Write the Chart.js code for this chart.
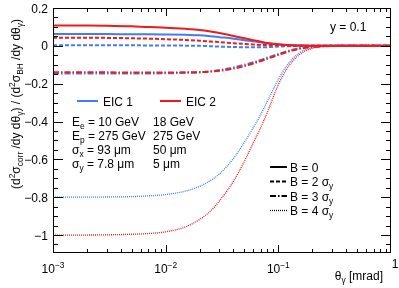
<!DOCTYPE html>
<html>
<head>
<meta charset="utf-8">
<script src="https://cdn.jsdelivr.net/npm/chart.js@4"></script>
<style>
  html, body { margin: 0; padding: 0; background: #fff; }
  #wrap { width: 399px; height: 288px; }
</style>
</head>
<body>
<div id="wrap"><canvas id="grafic"></canvas></div>
<script>
// theta_gamma values [mrad]
const thetaY = [0.001, 0.002, 0.003, 0.005, 0.007, 0.01, 0.015, 0.02, 0.025, 0.03, 0.04,
                0.05, 0.06, 0.07, 0.08, 0.1, 0.12, 0.15, 0.2, 0.3, 0.5, 1];

// EIC 1 ratios
const eic1B0 = [0.062, 0.062, 0.062, 0.061, 0.061, 0.060, 0.058, 0.056, 0.051, 0.046, 0.038,
                0.030, 0.024, 0.018, 0.013, 0.007, 0.004, 0.002, 0, 0, 0, 0];
const eic1B2 = [0.003, 0.003, 0.003, 0.003, 0.002, 0.002, 0.001, 0, -0.002, -0.004, -0.006,
                -0.008, -0.008, -0.008, -0.007, -0.004, -0.002, -0.001, 0, 0, 0, 0];
const eic1B3 = [-0.146, -0.146, -0.146, -0.146, -0.146, -0.145, -0.143, -0.140, -0.135, -0.128, -0.114,
                -0.100, -0.087, -0.074, -0.062, -0.043, -0.028, -0.014, -0.004, 0, 0, 0];
const eic1B4 = [-0.800, -0.800, -0.799, -0.797, -0.793, -0.786, -0.768, -0.743, -0.712, -0.677, -0.595,
                -0.510, -0.432, -0.362, -0.293, -0.177, -0.102, -0.042, -0.009, -0.001, 0, 0];

// EIC 2 ratios
const eic2B0 = [0.107, 0.107, 0.106, 0.103, 0.099, 0.096, 0.090, 0.084, 0.076, 0.068, 0.052,
                0.040, 0.030, 0.022, 0.015, 0.008, 0.004, 0.002, 0, 0, 0, 0];
const eic2B2 = [0.043, 0.043, 0.042, 0.040, 0.038, 0.035, 0.031, 0.027, 0.023, 0.020, 0.014,
                0.010, 0.007, 0.005, 0.004, 0.003, 0.002, 0.001, 0, 0, 0, 0];
const eic2B3 = [-0.140, -0.140, -0.140, -0.141, -0.141, -0.141, -0.140, -0.139, -0.136, -0.132, -0.120,
                -0.107, -0.093, -0.080, -0.068, -0.048, -0.032, -0.017, -0.006, -0.001, 0, 0];
const eic2B4 = [-1.000, -1.000, -0.999, -0.996, -0.992, -0.983, -0.957, -0.918, -0.873, -0.820, -0.715,
                -0.610, -0.512, -0.430, -0.350, -0.205, -0.118, -0.052, -0.013, -0.002, 0, 0];

const yTicks = [-1, -0.8, -0.6, -0.4, -0.2, 0, 0.2];
const xTicks = [0.001, 0.01, 0.1, 1];
const xTickLabels = [['10', '−3'], ['10', '−2'], ['10', '−1'], ['1', '']];

const beamLabels = ['EIC 1', 'EIC 2'];
const paramNames = [['E', 'e'], ['E', 'p'], ['σ', 'x'], ['σ', 'y']];
const paramEic1 = ['10 GeV', '275 GeV', '93 μm', '7.8 μm'];
const paramEic2 = ['18 GeV', '275 GeV', '50 μm', '5 μm'];
const bLabels = [['B = 0', ''], ['B = 2 σ', 'y'], ['B = 3 σ', 'y'], ['B = 4 σ', 'y']];

const BLUE = '#3f7ef2';
const RED = '#f01a1a';
const FONT = '"Liberation Sans", Arial, sans-serif';
const dashes = [[], [4, 2], [6, 2, 1.5, 2], [1, 1]];
const widths = [2, 2, 2, 1.3];

const pts = arr => arr.map((v, i) => ({ x: thetaY[i], y: v }));

function serie(data, color, k) {
    return {
        data: pts(data),
        borderColor: color,
        borderWidth: widths[k],
        borderDash: dashes[k],
        pointRadius: 0,
        fill: false,
        cubicInterpolationMode: 'monotone'
    };
}

// text amb sub/superindexs: parts = [[text, mode]] mode 0 normal, 1 sub, 2 sup
function rich(ctx, parts, x, y, size, align) {
    const sm = size * 0.7;
    let w = 0;
    parts.forEach(p => {
        ctx.font = (p[1] ? sm : size) + 'px ' + FONT;
        w += ctx.measureText(p[0]).width;
    });
    let cx = align === 'center' ? x - w / 2 : align === 'right' ? x - w : x;
    ctx.textAlign = 'left';
    ctx.textBaseline = 'alphabetic';
    parts.forEach(p => {
        ctx.font = (p[1] ? sm : size) + 'px ' + FONT;
        const dy = p[1] === 1 ? size * 0.28 : p[1] === 2 ? -size * 0.42 : 0;
        ctx.fillText(p[0], cx, y + dy);
        cx += ctx.measureText(p[0]).width;
    });
}

const decoracio = {
    id: 'decoracio',
    afterDraw(chart) {
        const ctx = chart.ctx;
        const a = chart.chartArea;
        const xs = chart.scales.x, ys = chart.scales.y;
        ctx.save();
        ctx.strokeStyle = '#000';
        ctx.fillStyle = '#000';
        ctx.lineWidth = 1;
        ctx.setLineDash([]);
        ctx.strokeRect(a.left + 0.5, a.top + 0.5, a.right - a.left - 1, a.bottom - a.top - 1);

        // ticks y, dins del marc, als dos costats
        ctx.beginPath();
        for (let v = -1.05; v <= 0.2001; v += 0.05) {
            const major = Math.abs(Math.round(v * 5) - v * 5) < 1e-6;
            const len = major ? 10 : 5;
            const py = Math.round(ys.getPixelForValue(v)) + 0.5;
            ctx.moveTo(a.left, py); ctx.lineTo(a.left + len, py);
            ctx.moveTo(a.right, py); ctx.lineTo(a.right - len, py);
        }
        // ticks x, a dalt i a baix
        for (let e = -3; e < 0; e++) {
            for (let m = 1; m <= 9; m++) {
                const v = m * Math.pow(10, e);
                const len = m === 1 ? 8 : 4;
                const px = Math.round(xs.getPixelForValue(v)) + 0.5;
                ctx.moveTo(px, a.bottom); ctx.lineTo(px, a.bottom - len);
                ctx.moveTo(px, a.top); ctx.lineTo(px, a.top + len);
            }
        }
        ctx.stroke();

        // etiquetes y
        yTicks.forEach(v => {
            const py = ys.getPixelForValue(v);
            rich(ctx, [[String(v).replace('-', '−'), 0]], a.left - 5, py + 4.5, 12, 'right');
        });

        // etiquetes x
        xTicks.forEach((v, i) => {
            const px = xs.getPixelForValue(v);
            const lab = xTickLabels[i];
            if (lab[1]) rich(ctx, [[lab[0], 0], [lab[1], 2]], px, 273, 12, 'center');
            else rich(ctx, [[lab[0], 0]], px + 4, 268, 12, 'center');
        });

        // titols
        rich(ctx, [['θ', 0], ['γ', 1], [' [mrad]', 0]], 383, 280, 12, 'right');
        ctx.save();
        ctx.translate(20, 104);
        ctx.rotate(-Math.PI / 2);
        rich(ctx, [['(d', 0], ['2', 2], ['σ', 0], ['corr', 1], [' /dy dθ', 0], ['γ', 1],
                   [') / (d', 0], ['2', 2], ['σ', 0], ['BH', 1], [' /dy dθ', 0], ['γ', 1], [')', 0]],
             0, 0, 12, 'center');
        ctx.restore();

        rich(ctx, [['y = 0.1', 0]], 330, 31, 12, 'left');

        // llegenda feixos
        ctx.lineWidth = 2;
        [BLUE, RED].forEach((c, i) => {
            const x0 = i === 0 ? 77 : 160;
            ctx.strokeStyle = c;
            ctx.beginPath(); ctx.moveTo(x0, 101); ctx.lineTo(x0 + 21, 101); ctx.stroke();
            rich(ctx, [[beamLabels[i], 0]], x0 + 26, 105.5, 12, 'left');
        });
        paramNames.forEach((p, i) => {
            const y = 125.5 + i * 14;
            rich(ctx, [[p[0], 0], [p[1], 1], [' = ' + paramEic1[i], 0]], 72, y, 12, 'left');
            rich(ctx, [[paramEic2[i], 0]], 153, y, 12, 'left');
        });

        // llegenda estils
        ctx.strokeStyle = '#000';
        bLabels.forEach((b, i) => {
            const y = 167 + i * 14.5;
            ctx.lineWidth = widths[i];
            ctx.setLineDash(dashes[i]);
            ctx.beginPath(); ctx.moveTo(270, y); ctx.lineTo(287, y); ctx.stroke();
            rich(ctx, b[1] ? [[b[0], 0], [b[1], 1]] : [[b[0], 0]], 290, y + 4.5, 12, 'left');
        });
        ctx.restore();
    }
};

new Chart(document.getElementById('grafic').getContext('2d'), {
    type: 'line',
    data: {
        datasets: [
            serie(eic2B0, RED, 0), serie(eic2B2, RED, 1), serie(eic2B3, RED, 2), serie(eic2B4, RED, 3),
            serie(eic1B0, BLUE, 0), serie(eic1B2, BLUE, 1), serie(eic1B3, BLUE, 2), serie(eic1B4, BLUE, 3)
        ]
    },
    options: {
        responsive: true,
        maintainAspectRatio: false,
        animation: false,
        layout: { padding: { left: 0, right: 8, top: 8, bottom: 0 } },
        plugins: { legend: { display: false }, tooltip: { enabled: false } },
        scales: {
            x: {
                type: 'logarithmic',
                min: 0.001,
                max: 1,
                grid: { display: false },
                border: { display: false },
                ticks: { display: false },
                afterFit: s => { s.height = 35; }
            },
            y: {
                min: -1.095,
                max: 0.2,
                grid: { display: false },
                border: { display: false },
                ticks: { display: false },
                afterFit: s => { s.width = 53; }
            }
        }
    },
    plugins: [decoracio]
});
</script>
</body>
</html>
